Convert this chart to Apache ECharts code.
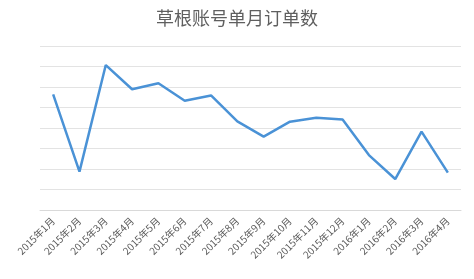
<!DOCTYPE html>
<html><head><meta charset="utf-8">
<script src="https://cdn.jsdelivr.net/npm/echarts@6/dist/echarts.min.js"></script>
<style>html,body{margin:0;padding:0;background:#fff}#c{width:474px;height:279px}</style>
</head><body><div id="c"></div>
<script>
const categories = ['2015年1月','2015年2月','2015年3月','2015年4月','2015年5月','2015年6月','2015年7月','2015年8月','2015年9月','2015年10月','2015年11月','2015年12月','2016年1月','2016年2月','2016年3月','2016年4月'];
const orders = [5.64, 1.87, 7.07, 5.89, 6.18, 5.33, 5.59, 4.32, 3.58, 4.31, 4.5, 4.41, 2.68, 1.51, 3.82, 1.82];
const titleText = '草根账号单月订单数';
const font = '"Noto Sans CJK SC", "Noto Sans", sans-serif';
const chart = echarts.init(document.getElementById('c'));
chart.setOption({
  animation: false,
  title: { text: titleText, left: 'center', top: 4, textStyle: { fontFamily: font, fontSize: 18, fontWeight: 'normal', color: '#5f5f5f' } },
  grid: { left: 40, right: 13, top: 46, bottom: 69 },
  xAxis: {
    type: 'category', data: categories, boundaryGap: true,
    axisLine: { lineStyle: { color: '#d9d9d9', width: 1 } },
    axisTick: { show: false },
    axisLabel: { rotate: 45, interval: 0, margin: 9, fontFamily: font, fontSize: 10, color: '#595959' }
  },
  yAxis: {
    type: 'value', min: 0, max: 8, interval: 1,
    axisLabel: { show: false }, axisLine: { show: false }, axisTick: { show: false },
    splitLine: { lineStyle: { color: '#e3e3e3', width: 1 } }
  },
  series: [{
    type: 'line', data: orders, symbol: 'none',
    lineStyle: { color: '#4a92d6', width: 2.5 }
  }]
});
</script></body></html>
